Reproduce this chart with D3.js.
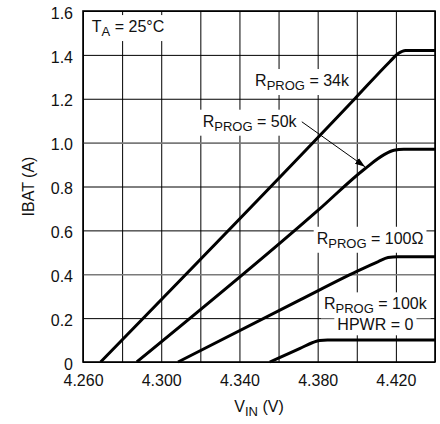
<!DOCTYPE html>
<html>
<head>
<meta charset="utf-8">
<script src="https://cdn.jsdelivr.net/npm/d3@7"></script>
<style>
  body { margin: 0; background: #fff; }
  text { font-family: "Liberation Sans", Arial, sans-serif; fill: #111; }
</style>
</head>
<body>
<script>
// values
const xGridTicks = [4.26, 4.28, 4.30, 4.32, 4.34, 4.36, 4.38, 4.40, 4.42, 4.44];
const xLabelTicks = [4.26, 4.30, 4.34, 4.38, 4.42];
const yTicks = [0, 0.2, 0.4, 0.6, 0.8, 1.0, 1.2, 1.4, 1.6];
const yGrayTicks = [0.4, 1.0];

// [VIN, IBAT] pairs per curve
const prog34k = [[4.269, 0], [4.399, 1.2], [4.417, 1.37], [4.421, 1.405], [4.425, 1.42], [4.44, 1.42]];
const prog50k = [[4.2875, 0], [4.3804, 0.693], [4.404, 0.88], [4.414, 0.945], [4.419, 0.965], [4.424, 0.97], [4.44, 0.97]];
const prog100ohm = [[4.3086, 0], [4.371, 0.283], [4.40, 0.413], [4.411, 0.458], [4.416, 0.476], [4.421, 0.48], [4.44, 0.48]];
const prog100kHpwr0 = [[4.3555, 0], [4.371, 0.062], [4.3775, 0.089], [4.381, 0.098], [4.385, 0.1], [4.44, 0.1]];

const svg = d3.select("body").append("svg").attr("width", 440).attr("height", 424);

const margin = {left: 83, right: 5, top: 11, bottom: 62};
const width = 440 - margin.left - margin.right;
const height = 424 - margin.top - margin.bottom;

const groupChart = svg.append("g").attr("transform", `translate(${margin.left}, ${margin.top})`);

const xScale = d3.scaleLinear().domain([4.26, 4.44]).range([0, width]);
const yScale = d3.scaleLinear().domain([0, 1.6]).range([height, 0]);

// grid
const xGrid = groupChart.append("g")
  .attr("transform", `translate(0, ${height})`)
  .call(d3.axisBottom(xScale).tickValues(xGridTicks).tickSize(-height).tickFormat(""));
xGrid.select(".domain").remove();
xGrid.selectAll("line").attr("stroke", "#000").attr("stroke-width", 1);

const yGrid = groupChart.append("g")
  .call(d3.axisLeft(yScale).tickValues(yTicks).tickSize(-width).tickFormat(""));
yGrid.select(".domain").remove();
yGrid.selectAll(".tick line")
  .attr("stroke", d => yGrayTicks.includes(d) ? "#7a7a7a" : "#000")
  .attr("stroke-width", d => yGrayTicks.includes(d) ? 1.6 : 1);

// label layer (white boxes hide the grid behind text)
const bgLayer = groupChart.append("g");
const curveLayer = groupChart.append("g");
const textLayer = groupChart.append("g");

// curves
const lineGenerator = d3.line()
  .x(d => xScale(d[0]))
  .y(d => yScale(d[1]))
  .curve(d3.curveMonotoneX);

[prog34k, prog50k, prog100ohm, prog100kHpwr0].forEach(series => {
  curveLayer.append("path")
    .attr("fill", "none")
    .attr("stroke", "#000")
    .attr("stroke-width", 3)
    .attr("stroke-linejoin", "round")
    .attr("d", lineGenerator(series));
});

// annotations: [VIN, IBAT] anchor, text parts
const annotations = [
  {x: 4.2645, y: 1.504, anchor: "start", main: "T", sub: "A", rest: " = 25°C"},
  {x: 4.348, y: 1.258, anchor: "start", main: "R", sub: "PROG", rest: " = 34k"},
  {x: 4.3212, y: 1.0726, anchor: "start", main: "R", sub: "PROG", rest: " = 50k"},
  {x: 4.3795, y: 0.539, anchor: "start", main: "R", sub: "PROG", rest: " = 100Ω"},
  {x: 4.4095, y: 0.240, anchor: "middle", main: "R", sub: "PROG", rest: " = 100k"},
  {x: 4.4095, y: 0.1445, anchor: "middle", main: "HPWR = 0", sub: "", rest: ""}
];

annotations.forEach(a => {
  const t = textLayer.append("text")
    .attr("x", xScale(a.x))
    .attr("y", yScale(a.y))
    .attr("text-anchor", a.anchor)
    .style("font-size", "16px");
  t.append("tspan").text(a.main);
  if (a.sub) {
    t.append("tspan").attr("dy", 4).style("font-size", "13px").text(a.sub);
    t.append("tspan").attr("dy", -4).text(a.rest);
  }
  const b = t.node().getBBox();
  bgLayer.append("rect")
    .attr("x", b.x - 3).attr("y", b.y - 3)
    .attr("width", b.width + 6).attr("height", b.height + 5)
    .attr("fill", "#fff");
});

// arrow from 50k label to its curve
const defs = svg.append("defs");
defs.append("marker")
  .attr("id", "arrowhead")
  .attr("viewBox", "0 -4 10 8")
  .attr("refX", 10).attr("refY", 0)
  .attr("markerWidth", 10).attr("markerHeight", 8)
  .attr("markerUnits", "userSpaceOnUse")
  .attr("orient", "auto")
  .append("path").attr("d", "M0,-3.5L10,0L0,3.5Z").attr("fill", "#000");

const arrowFrom = [4.3719, 1.095];
const arrowTo = [4.4042, 0.89];
textLayer.append("line")
  .attr("x1", xScale(arrowFrom[0])).attr("y1", yScale(arrowFrom[1]))
  .attr("x2", xScale(arrowTo[0])).attr("y2", yScale(arrowTo[1]))
  .attr("stroke", "#000").attr("stroke-width", 1)
  .attr("marker-end", "url(#arrowhead)");

// frame
groupChart.append("rect")
  .attr("width", width).attr("height", height)
  .attr("fill", "none").attr("stroke", "#000").attr("stroke-width", 1.6);

// tick labels
const xAxis = groupChart.append("g")
  .attr("transform", `translate(0, ${height})`)
  .call(d3.axisBottom(xScale).tickValues(xLabelTicks).tickSize(0).tickPadding(13).tickFormat(d3.format(".3f")));
xAxis.select(".domain").remove();
xAxis.selectAll("text").style("font-size", "16px").attr("fill", "#111").style("font-family", "Liberation Sans, Arial, sans-serif");

const yAxis = groupChart.append("g")
  .call(d3.axisLeft(yScale).tickValues(yTicks).tickSize(0).tickPadding(10)
    .tickFormat(d => d === 0 ? "0" : d3.format(".1f")(d)));
yAxis.select(".domain").remove();
yAxis.selectAll("text").style("font-size", "16px").attr("fill", "#111").attr("y", 2).style("font-family", "Liberation Sans, Arial, sans-serif");

// axis titles
const xTitle = svg.append("text")
  .attr("x", margin.left + width / 2)
  .attr("y", 412)
  .attr("text-anchor", "middle")
  .style("font-size", "16px");
xTitle.append("tspan").text("V");
xTitle.append("tspan").attr("dy", 4).style("font-size", "13px").text("IN");
xTitle.append("tspan").attr("dy", -4).text(" (V)");

svg.append("text")
  .attr("transform", `translate(34, ${margin.top + height / 2}) rotate(-90)`)
  .attr("text-anchor", "middle")
  .style("font-size", "16px")
  .text("IBAT (A)");
</script>
</body>
</html>
